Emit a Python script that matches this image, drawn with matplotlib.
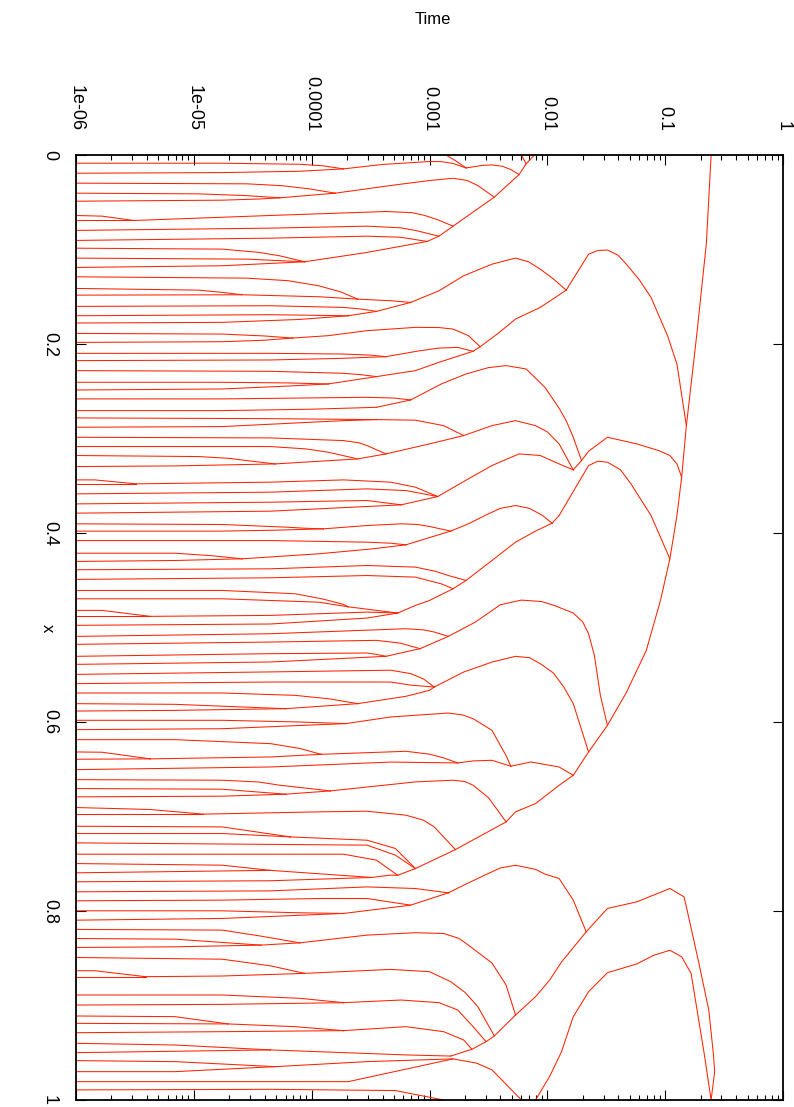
import numpy as np
import matplotlib
matplotlib.use("Agg")
import matplotlib.pyplot as plt
from matplotlib.ticker import FixedLocator, FixedFormatter, NullFormatter

# Each branch: list of (log10(Time), x) points
group_a = [
    [(-6, .0087), (-4.76, .0087), (-4.10, .0098), (-3.90, .0115), (-3.73, .0147)],
    [(-6, .0193), (-4.76, .0186), (-4.10, .0172), (-3.73, .0147)],
    [(-3.73, .0147), (-3.40, .0100), (-3.0, .0069), (-2.90, .0070), (-2.80, .0090), (-2.69, .0137)],
    [(-2.86, 0.0), (-2.78, .0060), (-2.69, .0137)],
    [(-2.69, .0137), (-2.55, .0110), (-2.47, .0105), (-2.38, .0120), (-2.31, .0154), (-2.24, .0207)],
    [(-6, .0298), (-4.55, .0305), (-4.25, .0325), (-4.02, .0358), (-3.80, .0404)],
    [(-6, .0404), (-4.96, .0411), (-4.55, .0430), (-4.27, .0453)],
    [(-6, .0489), (-4.76, .0478), (-4.45, .0466), (-4.27, .0453)],
    [(-4.27, .0453), (-3.80, .0404)],
    [(-3.80, .0404), (-3.33, .0323), (-3.0, .0270), (-2.80, .0246), (-2.68, .0270), (-2.59, .0323), (-2.45, .0446)],
    [(-6, .0640), (-5.78, .0647), (-5.51, .0693)],
    [(-6, .0693), (-5.51, .0693)],
    [(-5.51, .0693), (-4.35, .0640), (-3.37, .0598), (-3.15, .0610), (-3.04, .0640), (-2.92, .0690), (-2.80, .0753)],
    [(-6, .0798), (-4.35, .0774), (-3.53, .0753), (-3.25, .0770), (-3.12, .0798), (-2.92, .0859)],
    [(-6, .0904), (-4.35, .0880), (-3.53, .0859), (-3.25, .0870), (-3.16, .0887), (-3.02, .0915)],
    [(-3.02, .0915), (-2.92, .0859), (-2.80, .0753), (-2.45, .0446), (-2.24, .0207),
     (-2.18, .0094), (-2.11, 0.0)],
    [(-2.22, 0.0), (-2.18, .0094)],
]

group_b = [
    [(-6, .0986), (-4.76, .0996), (-4.45, .1030), (-4.27, .1067), (-4.06, .1130)],
    [(-6, .1091), (-4.55, .1102), (-4.06, .1130)],
    [(-6, .1190), (-4.76, .1172), (-4.06, .1130)],
    [(-4.06, .1130), (-3.53, .1031), (-3.02, .0915)],
    [(-6, .1289), (-4.55, .1303), (-4.20, .1330), (-3.94, .1384), (-3.75, .1450), (-3.61, .1525)],
    [(-6, .1412), (-4.96, .1430), (-4.75, .1455), (-4.59, .1479)],
    [(-6, .1483), (-4.59, .1479), (-3.94, .1500), (-3.61, .1525)],
    [(-3.61, .1525), (-3.33, .1542), (-3.16, .1560)],
    [(-6, .1602), (-4.35, .1595), (-3.73, .1613), (-3.58, .1630), (-3.45, .1655)],
    [(-6, .1701), (-4.35, .1690), (-3.69, .1701)],
    [(-6, .1778), (-4.76, .1771), (-4.10, .1740), (-3.69, .1701)],
    [(-3.69, .1701), (-3.45, .1655), (-3.16, .1560)],
    [(-3.16, .1560), (-2.92, .1437), (-2.71, .1278), (-2.47, .1155), (-2.27, .1091),
     (-2.16, .1130), (-2.06, .1208), (-1.95, .1310), (-1.84, .1430)],
    [(-2.57, .2029), (-2.41, .1880), (-2.27, .1736), (-2.06, .1613), (-1.84, .1430)],
    [(-1.84, .1430), (-1.65, .1049), (-1.57, .1010), (-1.49, .1006), (-1.40, .1060),
     (-1.33, .1155), (-1.22, .1320), (-1.12, .1507), (-0.98, .1912), (-0.90, .2212),
     (-0.82, .2864)],
]

group_c = [
    [(-6, .1888), (-4.76, .1895), (-4.40, .1915), (-4.16, .1937)],
    [(-6, .1983), (-4.76, .1976), (-4.40, .1960), (-4.16, .1937)],
    [(-4.16, .1937), (-3.86, .1912), (-3.53, .1859), (-3.12, .1824), (-2.92, .1826),
     (-2.80, .1842), (-2.67, .1912), (-2.57, .2029)],
    [(-6, .2099), (-4.35, .2099), (-3.73, .2106), (-3.50, .2118), (-3.37, .2134)],
    [(-6, .2176), (-4.35, .2169), (-3.75, .2152), (-3.37, .2134)],
    [(-3.37, .2134), (-3.10, .2075), (-2.92, .2043), (-2.76, .2036), (-2.63, .2077)],
    [(-6, .2282), (-4.35, .2289), (-3.73, .2310), (-3.58, .2325), (-3.45, .2345)],
    [(-6, .2405), (-4.76, .2405), (-4.20, .2412), (-3.86, .2423)],
    [(-6, .2487), (-4.76, .2476), (-4.20, .2445), (-3.86, .2423)],
    [(-3.86, .2423), (-3.45, .2345)],
    [(-3.45, .2345), (-3.12, .2282), (-2.92, .2194), (-2.63, .2077), (-2.57, .2029)],
    [(-6, .2581), (-4.76, .2581), (-3.53, .2564), (-3.30, .2572), (-3.16, .2592)],
    [(-6, .2705), (-4.76, .2705), (-4.0, .2690), (-3.45, .2670)],
    [(-3.45, .2670), (-3.16, .2592)],
    [(-3.16, .2592), (-2.90, .2423), (-2.69, .2317), (-2.50, .2250), (-2.35, .2229),
     (-2.18, .2264), (-2.02, .2459), (-1.90, .2680), (-1.84, .2811), (-1.78, .2987),
     (-1.73, .3163), (-1.71, .3234)],
    [(-6, .2782), (-4.35, .2790), (-3.45, .2800)],
    [(-6, .2881), (-4.76, .2874), (-3.73, .2811), (-3.45, .2800)],
    [(-3.45, .2800), (-3.12, .2806), (-2.88, .2864), (-2.71, .2969)],
]

group_d = [
    [(-6, .2987), (-4.35, .2994), (-3.73, .3022), (-3.60, .3045), (-3.53, .3075), (-3.37, .3163)],
    [(-6, .3085), (-4.35, .3085), (-4.05, .3110), (-3.86, .3145), (-3.61, .3216)],
    [(-6, .3180), (-4.96, .3191), (-4.70, .3210), (-4.55, .3234), (-4.31, .3269)],
    [(-6, .3297), (-5.16, .3290), (-4.31, .3269)],
    [(-4.31, .3269), (-3.61, .3216), (-3.37, .3163)],
    [(-3.37, .3163), (-3.0, .3057), (-2.71, .2969)],
    [(-2.71, .2969), (-2.47, .2864), (-2.27, .2811), (-2.10, .2864), (-2.00, .2930),
     (-1.90, .3057), (-1.78, .3332)],
    [(-6, .3438), (-5.84, .3438), (-5.49, .3480)],
    [(-6, .3480), (-5.49, .3480)],
    [(-5.49, .3480), (-4.35, .3462), (-3.73, .3438), (-3.33, .3462), (-3.12, .3515), (-2.93, .3614)],
    [(-6, .3586), (-4.35, .3568), (-3.53, .3533), (-3.20, .3551), (-2.93, .3614)],
    [(-6, .3692), (-4.35, .3674), (-3.53, .3656), (-3.24, .3702)],
    [(-6, .3790), (-4.35, .3769), (-3.24, .3702)],
    [(-3.24, .3702), (-2.93, .3614)],
    [(-2.93, .3614), (-2.67, .3427), (-2.47, .3286), (-2.24, .3163), (-2.06, .3180),
     (-1.90, .3269), (-1.78, .3332)],
    [(-1.78, .3332), (-1.71, .3234)],
    [(-1.71, .3234), (-1.65, .3135), (-1.49, .2987), (-1.24, .3057), (-1.05, .3130),
     (-0.96, .3180), (-0.90, .3270), (-0.86, .3409)],
]

group_e = [
    [(-6, .3903), (-4.76, .3910), (-4.22, .3938), (-4.05, .3950), (-3.90, .3956)],
    [(-6, .3980), (-4.76, .3980), (-4.30, .3970), (-3.90, .3956)],
    [(-3.90, .3956), (-3.53, .3921), (-3.24, .3903), (-3.10, .3910), (-3.0, .3931), (-2.82, .3980)],
    [(-6, .4080), (-4.35, .4080), (-3.53, .4097), (-3.33, .4108), (-3.20, .4125)],
    [(-6, .4214), (-5.16, .4214), (-4.85, .4240), (-4.59, .4273)],
    [(-6, .4301), (-5.16, .4291), (-4.59, .4273)],
    [(-4.59, .4273), (-3.94, .4220), (-3.50, .4170), (-3.20, .4125)],
    [(-3.20, .4125), (-2.82, .3980)],
    [(-2.82, .3980), (-2.67, .3903), (-2.53, .3815), (-2.40, .3740), (-2.27, .3709),
     (-2.15, .3740), (-2.04, .3815), (-1.96, .3896)],
    [(-6, .4389), (-4.35, .4379), (-3.53, .4344), (-3.12, .4361), (-2.95, .4405),
     (-2.84, .4450), (-2.69, .4502)],
    [(-6, .4491), (-4.35, .4474), (-3.53, .4450), (-3.12, .4467), (-2.90, .4538), (-2.80, .4590)],
    [(-2.80, .4590), (-2.69, .4502)],
    [(-2.69, .4502), (-2.47, .4291), (-2.27, .4097), (-2.10, .3980), (-1.96, .3896)],
    [(-1.96, .3896), (-1.90, .3815), (-1.65, .3286), (-1.57, .3240), (-1.49, .3251),
     (-1.38, .3330), (-1.29, .3480), (-1.12, .3815), (-0.96, .4273)],
    [(-6, .4608), (-4.76, .4608), (-4.14, .4643), (-3.90, .4700), (-3.73, .4756), (-3.69, .4781)],
    [(-6, .4696), (-4.76, .4696), (-3.94, .4732), (-3.69, .4781)],
]

group_f = [
    [(-6, .4819), (-5.78, .4819), (-5.37, .4882)],
    [(-6, .4882), (-5.37, .4882)],
    [(-5.37, .4882), (-4.35, .4872), (-3.53, .4837), (-3.27, .4847)],
    [(-3.69, .4781), (-3.27, .4847)],
    [(-6, .4977), (-4.35, .4963), (-3.53, .4900), (-3.27, .4847)],
    [(-3.27, .4847), (-3.12, .4767), (-3.0, .4714), (-2.80, .4590)],
    [(-6, .5094), (-4.35, .5066), (-3.20, .5013), (-3.05, .5025), (-2.96, .5048), (-2.84, .5094)],
    [(-6, .5178), (-4.35, .5154), (-3.45, .5136), (-3.25, .5165), (-3.08, .5224)],
    [(-6, .5305), (-4.35, .5277), (-3.53, .5270), (-3.45, .5285), (-3.37, .5305)],
    [(-6, .5390), (-4.35, .5365), (-3.37, .5305)],
    [(-3.37, .5305), (-3.08, .5224)],
    [(-3.08, .5224), (-2.84, .5094)],
    [(-2.84, .5094), (-2.61, .4942), (-2.40, .4760), (-2.22, .4710), (-2.05, .4725),
     (-1.94, .4767), (-1.78, .4847), (-1.70, .4940), (-1.65, .5066), (-1.60, .5300),
     (-1.55, .5718), (-1.49, .6036)],
    [(-6, .5496), (-4.35, .5470), (-3.33, .5452), (-3.16, .5488), (-3.05, .5545), (-2.96, .5630)],
    [(-6, .5594), (-4.35, .5577), (-3.33, .5577), (-3.16, .5610), (-2.96, .5630)],
    [(-2.96, .5630), (-2.71, .5471), (-2.47, .5366), (-2.27, .5305), (-2.15, .5320),
     (-2.06, .5383), (-1.95, .5480), (-1.86, .5630), (-1.82, .5718), (-1.78, .5806),
     (-1.65, .6317)],
]

group_g = [
    [(-6, .5693), (-4.76, .5693), (-4.14, .5718), (-3.85, .5755), (-3.61, .5806)],
    [(-6, .5806), (-5.16, .5813), (-4.22, .5859)],
    [(-6, .5884), (-5.16, .5877), (-4.22, .5859)],
    [(-4.22, .5859), (-3.61, .5806)],
    [(-3.61, .5806), (-3.20, .5728), (-3.0, .5665), (-2.96, .5630)],
    [(-6, .5982), (-4.76, .5982), (-4.10, .6000), (-3.71, .6017)],
    [(-6, .6081), (-4.76, .6071), (-3.71, .6017)],
    [(-3.71, .6017), (-3.33, .5947), (-2.84, .5905), (-2.72, .5925), (-2.63, .5965),
     (-2.47, .6088), (-2.35, .6356), (-2.31, .6468)],
    [(-6, .6187), (-5.16, .6187), (-4.35, .6229), (-4.10, .6280), (-3.92, .6342)],
    [(-6, .6317), (-5.78, .6320), (-5.37, .6390)],
    [(-6, .6394), (-5.37, .6390)],
    [(-5.37, .6390), (-4.35, .6370), (-3.92, .6342)],
    [(-3.92, .6342), (-3.20, .6310), (-3.0, .6340), (-2.88, .6380), (-2.76, .6433)],
    [(-6, .6504), (-4.35, .6476), (-3.33, .6424), (-2.76, .6433)],
    [(-2.76, .6433), (-2.63, .6412), (-2.47, .6405), (-2.31, .6468)],
    [(-2.31, .6468), (-2.14, .6423), (-1.90, .6476), (-1.78, .6564)],
    [(-1.78, .6564), (-1.65, .6317), (-1.49, .6036)],
    [(-6, .6610), (-4.76, .6616), (-4.45, .6635), (-4.27, .6669), (-3.84, .6729)],
    [(-6, .6704), (-4.76, .6711), (-4.22, .6764)],
    [(-6, .6792), (-4.76, .6785), (-4.22, .6764)],
    [(-4.22, .6764), (-3.84, .6729)],
    [(-3.84, .6729), (-3.12, .6634), (-2.80, .6616), (-2.70, .6630), (-2.63, .6669),
     (-2.50, .6800), (-2.35, .7057)],
    [(-2.35, .7057), (-2.27, .6951), (-2.10, .6863), (-1.90, .6670), (-1.78, .6564)],
]

group_h = [
    [(-6, .6905), (-5.37, .6926), (-4.92, .6975)],
    [(-6, .6975), (-4.92, .6975)],
    [(-4.92, .6975), (-3.94, .6951), (-3.53, .6944), (-3.20, .6986), (-3.05, .7040),
     (-2.96, .7110), (-2.78, .7350)],
    [(-6, .7103), (-4.76, .7110), (-4.18, .7216)],
    [(-6, .7180), (-4.76, .7180), (-4.18, .7216)],
    [(-4.18, .7216), (-3.53, .7251), (-3.29, .7338), (-3.12, .7551)],
    [(-6, .7279), (-3.53, .7303), (-3.29, .7409), (-3.12, .7551)],
    [(-3.12, .7551), (-2.78, .7350)],
    [(-2.78, .7350), (-2.35, .7057)],
    [(-6, .7399), (-3.73, .7399), (-3.45, .7462), (-3.27, .7622)],
    [(-6, .7498), (-4.76, .7515), (-4.35, .7570)],
    [(-6, .7596), (-4.35, .7570)],
    [(-4.35, .7570), (-3.49, .7645)],
    [(-6, .7691), (-4.35, .7680), (-3.49, .7645)],
    [(-3.49, .7645), (-3.33, .7620), (-3.27, .7622)],
    [(-3.27, .7622), (-3.12, .7551)],
]

group_i = [
    [(-6, .7797), (-4.35, .7787), (-3.53, .7745), (-3.12, .7762), (-2.84, .7808)],
    [(-6, .7892), (-4.76, .7885), (-3.94, .7868), (-3.53, .7868), (-3.16, .7938)],
    [(-6, .7998), (-4.76, .7998), (-4.10, .8019), (-3.73, .8026)],
    [(-6, .8097), (-4.76, .8079), (-3.73, .8026)],
    [(-3.73, .8026), (-3.16, .7938), (-2.84, .7808)],
    [(-2.84, .7808), (-2.71, .7727), (-2.53, .7620), (-2.40, .7545), (-2.27, .7516),
     (-2.10, .7560), (-2.02, .7610), (-1.90, .7656), (-1.78, .7885), (-1.67, .8220)],
    [(-6, .8195), (-4.76, .8202), (-4.43, .8266), (-4.10, .8337)],
    [(-6, .8291), (-5.16, .8298), (-4.43, .8361)],
    [(-6, .8386), (-5.16, .8379), (-4.43, .8361)],
    [(-4.43, .8361), (-4.10, .8337)],
    [(-4.10, .8337), (-3.53, .8255), (-3.12, .8230), (-2.88, .8238), (-2.75, .8290),
     (-2.67, .8361), (-2.47, .8550), (-2.35, .8783), (-2.27, .9101)],
    [(-6, .8492), (-4.76, .8510), (-4.35, .8580), (-4.06, .8660)],
]

group_j = [
    [(-6, .8632), (-5.84, .8632), (-5.41, .8695)],
    [(-6, .8695), (-5.41, .8695)],
    [(-5.41, .8695), (-4.76, .8688), (-4.06, .8660)],
    [(-4.06, .8660), (-3.33, .8618), (-3.0, .8642), (-2.82, .8748), (-2.70, .8860),
     (-2.59, .9012), (-2.45, .9322)],
    [(-6, .8889), (-4.76, .8889), (-4.10, .8924), (-3.73, .8970)],
    [(-6, .8995), (-4.76, .8988), (-3.73, .8970)],
    [(-3.73, .8970), (-3.24, .8942), (-2.92, .8970), (-2.76, .9048), (-2.63, .9224), (-2.52, .9383)],
    [(-6, .9111), (-5.16, .9118), (-4.71, .9195)],
    [(-6, .9189), (-4.71, .9195)],
    [(-4.71, .9195), (-4.14, .9224), (-3.73, .9266)],
    [(-6, .9288), (-4.76, .9277), (-3.73, .9266)],
    [(-3.73, .9266), (-3.20, .9224), (-2.88, .9277), (-2.71, .9365), (-2.64, .9463)],
    [(-6, .9400), (-5.16, .9418), (-4.35, .9470)],
    [(-6, .9499), (-4.35, .9470)],
    [(-4.35, .9470), (-3.20, .9523), (-2.82, .9535)],
    [(-2.82, .9535), (-2.64, .9463), (-2.52, .9383), (-2.45, .9322), (-2.27, .9101)],
    [(-2.27, .9101), (-2.10, .8907), (-1.98, .8730), (-1.88, .8540), (-1.67, .8220)],
    [(-1.67, .8220), (-1.49, .7973), (-1.24, .7903), (-0.96, .7762), (-0.84, .7850),
     (-0.82, .7956), (-0.71, .8573), (-0.63, .9048), (-0.59, .9523), (-0.58, .9700),
     (-0.61, 1.0)],
    [(-2.10, 1.0), (-1.98, .9750), (-1.88, .9490), (-1.78, .9119), (-1.65, .8854),
     (-1.49, .8653), (-1.24, .8560), (-1.10, .8470), (-0.96, .8415), (-0.86, .8485),
     (-0.82, .8573), (-0.78, .8660), (-0.67, .9500), (-0.61, 1.0)],
]

group_k = [
    [(-6, .9583), (-5.16, .9594), (-4.31, .9647)],
    [(-6, .9700), (-5.16, .9700), (-4.31, .9647)],
    [(-4.31, .9647), (-3.53, .9594), (-2.80, .9565), (-2.60, .9610), (-2.47, .9681), (-2.22, 1.0)],
    [(-6, .9806), (-4.76, .9806), (-3.69, .9806), (-2.80, .9565)],
    [(-6, .9893), (-4.35, .9887), (-3.29, .9900), (-2.88, 1.0)],
]

big_shock = [
    [(-1.49, .6036), (-1.33, .5690), (-1.16, .5242), (-1.04, .4714), (-0.96, .4273),
     (-0.90, .3815), (-0.86, .3409), (-0.82, .2864), (-0.73, .1880), (-0.65, .0930),
     (-0.61, 0.0)],
]

time_ticks = [1e-6, 1e-5, 1e-4, 1e-3, 1e-2, 1e-1, 1]
time_labels = ["1e-06", "1e-05", "0.0001", "0.001", "0.01", "0.1", "1"]
x_ticks = [0, 0.2, 0.4, 0.6, 0.8, 1]
x_labels = ["0", "0.2", "0.4", "0.6", "0.8", "1"]

plt.rcParams['font.family'] = ['Liberation Sans', 'DejaVu Sans']

fig = plt.figure(figsize=(7.94, 11.07), dpi=100)
ax = fig.add_axes([76 / 794, 1 - 1100 / 1107, (783 - 76) / 794, (1100 - 155) / 1107])

line_color = '#ff2200'
for group in (group_a, group_b, group_c, group_d, group_e, group_f, group_g,
              group_h, group_i, group_j, group_k, big_shock):
    for branch in group:
        arr = np.array(branch, dtype=float)
        ax.plot(10 ** arr[:, 0], arr[:, 1], color=line_color, lw=0.75,
                solid_joinstyle='round')

ax.set_xscale('log')
ax.set_xlim(1e-6, 1)
ax.set_ylim(1, 0)

ax.xaxis.set_major_locator(FixedLocator(time_ticks))
ax.xaxis.set_major_formatter(FixedFormatter(time_labels))
minor = [m * 10.0 ** e for e in range(-6, 0) for m in range(2, 10)]
ax.xaxis.set_minor_locator(FixedLocator(minor))
ax.xaxis.set_minor_formatter(NullFormatter())
ax.yaxis.set_major_locator(FixedLocator(x_ticks))
ax.yaxis.set_major_formatter(FixedFormatter(x_labels))

ax.tick_params(axis='both', which='both', direction='in', top=True, bottom=True,
               left=True, right=True, labeltop=True, labelbottom=False,
               labelleft=True, labelright=False, width=0.8, colors='black')
ax.tick_params(axis='both', which='major', length=7)
ax.tick_params(axis='both', which='minor', length=3.5)
ax.tick_params(axis='x', which='major', pad=17, labelsize=13)
ax.tick_params(axis='y', which='major', pad=13, labelsize=13)
for lab in ax.get_xticklabels():
    lab.set_rotation(-90)
    lab.set_va('bottom')
    lab.set_ha('center')
for lab in ax.get_yticklabels():
    lab.set_rotation(-90)
    lab.set_va('center')
    lab.set_ha('right')

for sp in ax.spines.values():
    sp.set_linewidth(1.3)

fig.text(433 / 794, 1 - 20 / 1107, "Time", ha='center', va='center', fontsize=12)
fig.text(47 / 794, 1 - 628 / 1107, "x", ha='center', va='center', fontsize=12,
         rotation=-90)

fig.savefig("out.png", dpi=100)
